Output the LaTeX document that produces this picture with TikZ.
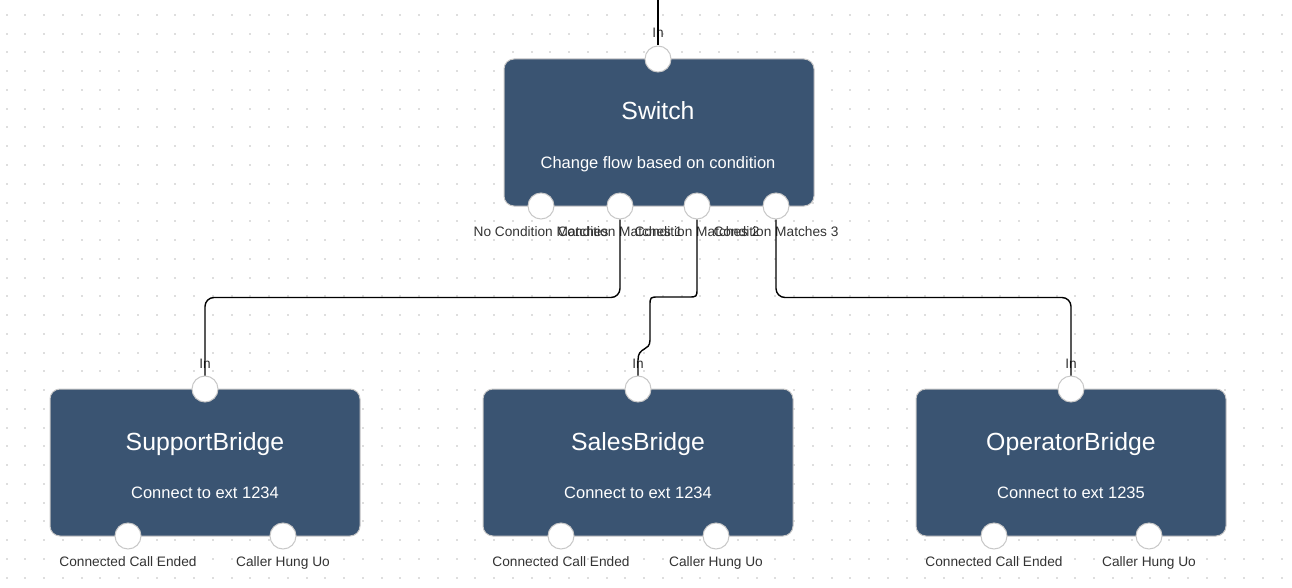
\documentclass[tikz,border=0pt]{standalone}
\usepackage{fontspec}
\setmainfont{Liberation Sans}
\definecolor{nodefill}{RGB}{58,84,114}
\definecolor{gridgray}{RGB}{222,222,222}
\definecolor{labelgray}{RGB}{51,51,51}
\definecolor{portrim}{RGB}{200,200,200}

\begin{document}
\begin{tikzpicture}[x=1pt, y=-1pt,
    box style/.style={draw=portrim, line width=1pt, fill=nodefill, rounded corners=10pt,
        minimum width=310pt, minimum height=147pt, inner sep=0pt},
    port style/.style={circle, draw=portrim, line width=1pt, fill=white, minimum size=26pt, inner sep=0pt},
    title style/.style={anchor=base, text=white, font=\fontsize{24.8}{29}\selectfont, inner sep=0pt},
    sub style/.style={anchor=base, text=white, font=\fontsize{16.5}{19}\selectfont, inner sep=0pt},
    label style/.style={anchor=base, text=labelgray, font=\fontsize{13.7}{16}\selectfont, inner sep=0pt},
    wire style/.style={draw=black, line width=1.4pt, rounded corners=9pt},]
    \useasboundingbox (0,0) rectangle (1292,588);

    % dotted canvas
    \foreach \i in {0,...,68}
        \foreach \j in {0,...,30}
            \fill[gridgray] (5.5+18.75*\i, 14+18.75*\j) rectangle ++(2,2);

    % switch
    \node[box style] (sw) at (659,132.5) {};
    \node[title style] (sw-title) at (658,120) {Switch};
    \node[sub style] (sw-sub) at (658,168) {Change flow based on condition};
    \node[port style] (sw-in) at (658,59) {};
    \node[label style] (sw-in-lbl) at (658,38) {In};
    \foreach \x/\nm/\txt in {541/c0/No Condition Matches, 620/c1/Condition Matches 1,
        697/c2/Condition Matches 2, 776/c3/Condition Matches 3} {
        \node[port style] (sw-\nm) at (\x,206) {};
        \node[label style] (sw-\nm-lbl) at (\x,236) {\txt};
    }

    % bridges
    \foreach \x/\nm/\ttl/\ext in {205/sb/SupportBridge/1234, 638/sa/SalesBridge/1234,
        1071/op/OperatorBridge/1235} {
        \node[box style] (\nm) at (\x,462.5) {};
        \node[title style] (\nm-title) at (\x,450) {\ttl};
        \node[sub style] (\nm-sub) at (\x,498) {Connect to ext \ext};
        \node[port style] (\nm-in) at (\x,389) {};
        \node[label style] (\nm-in-lbl) at (\x,368) {In};
        \node[port style] (\nm-end) at (\x-77,536) {};
        \node[label style] (\nm-end-lbl) at (\x-77,566) {Connected Call Ended};
        \node[port style] (\nm-hup) at (\x+78,536) {};
        \node[label style] (\nm-hup-lbl) at (\x+78,566) {Caller Hung Uo};
    }

    \coordinate (top) at (658,0);
    \coordinate (jog) at (650,340);

    \draw[wire style] (top) -- (sw-in.north);
    \draw[wire style] (sw-c1.south) -- ++(0,78) -| (sb-in.north);
    \draw[wire style, sharp corners] (sw-c2.south) -- (697,288) .. controls (697,297) .. (688,297)
        -- (659,297) .. controls (650,297) .. (650,306) -- (jog)
        .. controls (650,352) and (638,346) .. (638,360) -- (sa-in.north);
    \draw[wire style] (sw-c3.south) -- ++(0,78) -| (op-in.north);

\end{tikzpicture}
\end{document}
